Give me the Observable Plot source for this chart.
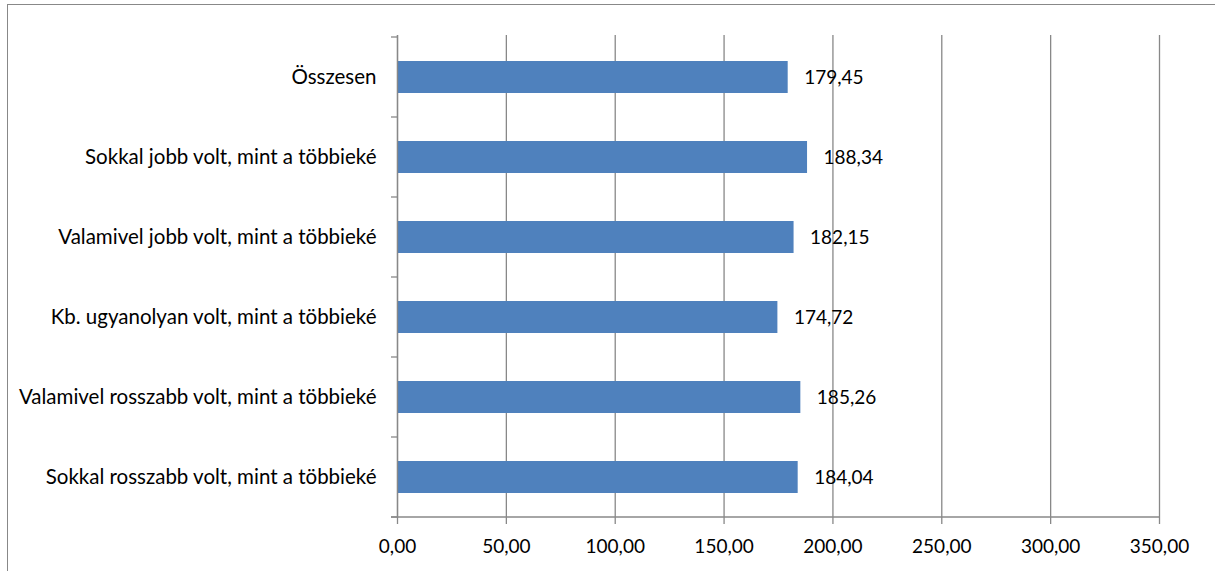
<!DOCTYPE html>
<html><head><meta charset="utf-8">
<script src="https://cdn.jsdelivr.net/npm/d3@7"></script>
<script src="https://cdn.jsdelivr.net/npm/@observablehq/plot@0.6"></script>
<style>
body{margin:0;background:#fff;overflow:hidden;}
#frame{position:absolute;left:7px;top:4px;width:1400px;height:800px;border:1.5px solid #888;box-sizing:border-box}
#chart{position:absolute;left:0;top:0}
</style></head><body>
<div id="frame"></div><div id="chart"></div>
<script>
const categories = [
  "Összesen",
  "Sokkal jobb volt, mint a többieké",
  "Valamivel jobb volt, mint a többieké",
  "Kb. ugyanolyan volt, mint a többieké",
  "Valamivel rosszabb volt, mint a többieké",
  "Sokkal rosszabb volt, mint a többieké"
];
const values = [179.45, 188.34, 182.15, 174.72, 185.26, 184.04];
const xTicks = [0, 50, 100, 150, 200, 250, 300, 350];

const data = categories.map((c, i) => ({category: c, value: values[i]}));
const fmt = v => d3.format(".2f")(v).replace(".", ",");
const grid = "#888888";
const font = "Lato, 'Open Sans', sans-serif";

const chart = Plot.plot({
  width: 1215, height: 571,
  marginLeft: 397, marginRight: 56, marginTop: 35, marginBottom: 53,
  style: {fontFamily: font, fontSize: "19px", color: "#000", background: "transparent", overflow: "visible"},
  x: {domain: [0, 350], ticks: xTicks, tickFormat: fmt},
  y: {domain: categories, paddingInner: 0.6, paddingOuter: 0.3},
  marks: [
    Plot.gridX(xTicks, {stroke: grid, strokeOpacity: 1, strokeWidth: 1.3}),
    Plot.barX(data, {x: "value", y: "category", fill: "#4F81BD"}),
    Plot.text(data, {x: "value", y: "category", text: d => fmt(d.value), textAnchor: "start", dx: 16, fill: "#000", fontSize: 19}),
    Plot.axisX({ticks: xTicks, tickFormat: fmt, tickSize: 6, tickPadding: 15, stroke: grid, strokeWidth: 1.3, strokeOpacity: 1, label: null}),
    Plot.axisY({tickSize: 0, tickPadding: 21, label: null, fontSize: 20.5}),
    Plot.ruleX([0], {stroke: grid, strokeWidth: 1.3})
  ]
});
document.getElementById("chart").appendChild(chart);

// axis line and category boundary ticks derived from the plot's own scales
const ys = chart.scale("y");
const xs = chart.scale("x");
const x0 = xs.apply(0), x1 = xs.apply(350);
const half = (ys.step - ys.bandwidth) / 2;
const bounds = categories.map(c => ys.apply(c) - half).concat([ys.apply(categories[categories.length - 1]) + ys.bandwidth + half]);
const svg = d3.select(chart);
const g = svg.append("g").attr("stroke", grid).attr("stroke-width", 1.3);
g.selectAll("line.t").data(bounds).join("line")
  .attr("x1", x0 - 6).attr("x2", x0).attr("y1", d => d).attr("y2", d => d);
g.append("line").attr("x1", x0 - 6).attr("x2", x1).attr("y1", bounds[bounds.length - 1]).attr("y2", bounds[bounds.length - 1]);
</script>
</body></html>
